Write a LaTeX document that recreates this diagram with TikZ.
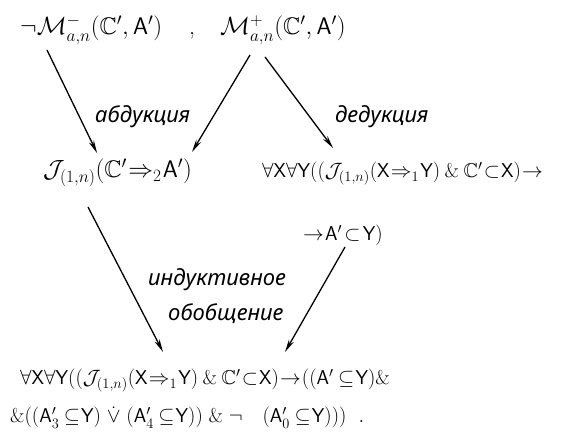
\documentclass[tikz,border=0pt]{standalone}
\usepackage{amssymb}
\usepackage{fontspec}
\newfontfamily\cyrfont{Noto Sans}
\usetikzlibrary{arrows.meta, positioning, calc}

\newcommand{\Cp}{\mathbb{C}'}
\newcommand{\Ap}{\mathsf{A}'}
\newcommand{\sX}{\mathsf{X}}
\newcommand{\sY}{\mathsf{Y}}
\newcommand{\Jrel}{\mathcal{J}_{(1,n)}}
\AtBeginDocument{\thickmuskip=1mu\relax\medmuskip=4mu\relax}

\begin{document}
\begin{tikzpicture}[x=1pt,y=1pt]
\tikzset{
  formula/.style={anchor=base west,inner sep=0pt,font=\fontsize{20}{24}\selectfont},
  bigformula/.style={formula,font=\fontsize{24}{28}\selectfont},
  rulelabel/.style={anchor=base west,inner sep=0pt,font=\cyrfont\itshape\fontsize{22}{26}\selectfont},
  infer/.style={-{Stealth[length=13pt,width=5.5pt]},line width=1.3pt}
}
\useasboundingbox (0,0) rectangle (562,436);

% premises
\node[bigformula] (negM) at (20,401) {$\neg\mathcal{M}^{-}_{a,n}(\Cp,\Ap)$};
\node[bigformula] (comma) at (189,401) {,};
\node[bigformula] (posM) at (220,401) {$\mathcal{M}^{+}_{a,n}(\Cp,\Ap)$};

% abduction / deduction results
\node[bigformula] (jrel) at (43,258) {$\Jrel(\Cp\Rightarrow_{2}\Ap)$};
\node[formula] (dedA) at (262,258) {$\forall\sX\forall\sY((\Jrel(\sX\Rightarrow_{1}\sY)\mathbin{\&}\Cp\subset\sX)\rightarrow$};
\node[formula] (dedB) at (303,195) {$\rightarrow\Ap\;\subset\;\sY)$};

% generalisation
\node[formula] (genA) at (20,51) {$\forall\sX\forall\sY((\Jrel(\sX\Rightarrow_{1}\sY)\mathbin{\&}\Cp\subset\sX)\rightarrow((\Ap\,\subseteq\sY)\mathbin{\&}$};
\node[formula] (genB) at (10,13) {$\&((\Ap_{3}\,\subseteq\sY)\;\mathbin{\dot{\vee}}\;(\Ap_{4}\,\subseteq\sY))\;\mathbin{\&}\;\neg\quad(\Ap_{0}\,\subseteq\sY)))\ \ .$};

% rule names
\node[rulelabel] (abd) at (95,313) {абдукция};
\node[rulelabel] (ded) at (335,313) {дедукция};
\node[rulelabel] (ind1) at (148,150) {индуктивное};
\node[rulelabel] (ind2) at (168,115) {обобщение};

\draw[infer] ([shift={(27,-15)}]negM.base west) -- ([shift={(54,25)}]jrel.base west);
\draw[infer] ([shift={(30,-20)}]posM.base west) -- ([shift={(149,26)}]jrel.base west);
\draw[infer] ([shift={(45,-22)}]posM.base west) -- ([shift={(71,30)}]dedA.base west);
\draw[infer] ([shift={(45,-29)}]jrel.base west) -- ([shift={(143,33)}]genA.base west);
\draw[infer] ([shift={(42,-6)}]dedB.base west) -- ([shift={(265,33)}]genA.base west);
\end{tikzpicture}
\end{document}
